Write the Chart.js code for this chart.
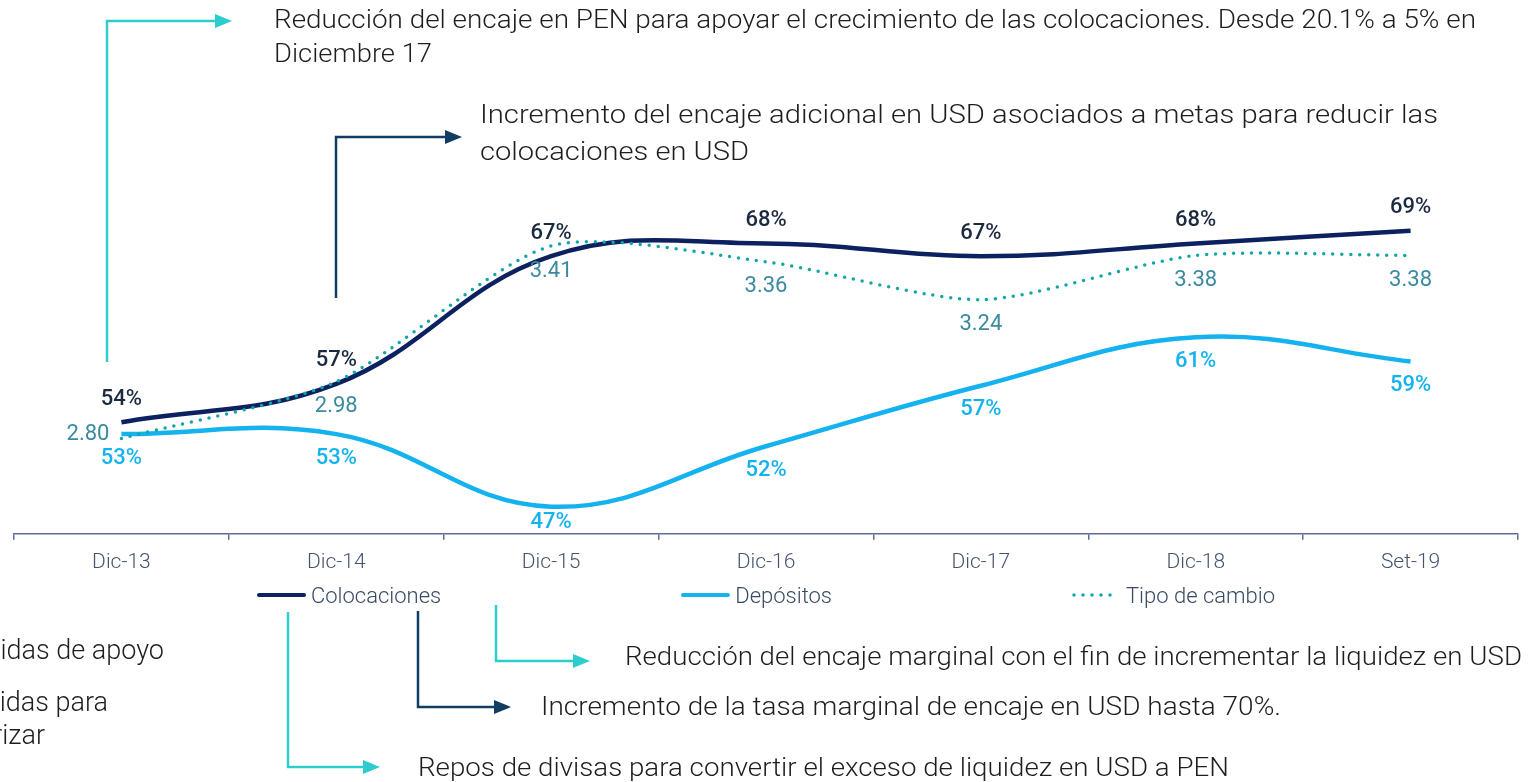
<!DOCTYPE html>
<html lang="es">
<head>
<meta charset="utf-8">
<title>Colocaciones, depósitos y tipo de cambio</title>
<script src="https://cdn.jsdelivr.net/npm/chart.js@4.4.1/dist/chart.umd.min.js"></script>
<style>
  html, body { margin: 0; padding: 0; background: #fff; }
  body { width: 1528px; height: 782px; position: relative; overflow: hidden; font-family: Roboto, "Noto Sans", sans-serif; }
  #caja { position: absolute; left: 0; top: 0; width: 1528px; height: 585px; }
  #notas { position: absolute; left: 0; top: 0; }
  #leyenda { position: absolute; left: 0; top: 580px; width: 1532px; height: 30px;
    display: flex; justify-content: center; align-items: center; gap: 240px; }
  .item { display: flex; align-items: center; font-size: 22px; font-weight: 300; color: #3a4a64; }
  .item svg { margin-right: 4px; }
</style>
</head>
<body>
<div id="caja"><canvas id="grafico"></canvas></div>
<div id="leyenda"></div>
<svg id="notas" width="1528" height="782" font-family="Roboto, 'Noto Sans', sans-serif" font-weight="300" font-size="26" fill="#1e1e1e">
  <!-- flechas -->
  <g fill="none" stroke-width="2.5">
    <polyline points="107,362 107,21 217,21" stroke="#2dcdce"/>
    <polyline points="336,298 336,137 447,137" stroke="#123d63"/>
    <polyline points="288,612 288,767 365,767" stroke="#2dcdce"/>
    <polyline points="418,611 418,707 496,707" stroke="#123d63"/>
    <polyline points="496,605 496,661 574,661" stroke="#2dcdce"/>
  </g>
  <polygon points="215,14 232,21 215,28" fill="#2dcdce"/>
  <polygon points="445,130 462,137 445,144" fill="#123d63"/>
  <polygon points="363,760 380,767 363,774" fill="#2dcdce"/>
  <polygon points="494,700 511,707 494,714" fill="#123d63"/>
  <polygon points="573,654 590,661 573,668" fill="#2dcdce"/>
  <!-- textos -->
  <text x="274" y="28" textLength="1202" lengthAdjust="spacingAndGlyphs">Reducción del encaje en PEN para apoyar el crecimiento de las colocaciones. Desde 20.1% a 5% en</text>
  <text x="274" y="62" textLength="158" lengthAdjust="spacingAndGlyphs">Diciembre 17</text>
  <text x="480" y="123" textLength="958" lengthAdjust="spacingAndGlyphs">Incremento del encaje adicional en USD asociados a metas para reducir las</text>
  <text x="480" y="160" textLength="269" lengthAdjust="spacingAndGlyphs">colocaciones en USD</text>
  <text x="625" y="665" textLength="897" lengthAdjust="spacingAndGlyphs">Reducción del encaje marginal con el fin de incrementar la liquidez en USD</text>
  <text x="541" y="715" textLength="740" lengthAdjust="spacingAndGlyphs">Incremento de la tasa marginal de encaje en USD hasta 70%.</text>
  <text x="418" y="776" textLength="811" lengthAdjust="spacingAndGlyphs">Repos de divisas para convertir el exceso de liquidez en USD a PEN</text>
  <g font-size="27">
    <text x="164" y="659" text-anchor="end">Medidas de apoyo</text>
    <text x="108" y="711" text-anchor="end">Medidas para</text>
    <text x="45" y="744" text-anchor="end">desdolarizar</text>
  </g>
</svg>
<script>
// datos
var categorias = ['Dic-13', 'Dic-14', 'Dic-15', 'Dic-16', 'Dic-17', 'Dic-18', 'Set-19'];
var colocaciones = [54, 57, 67, 68, 67, 68, 69];      // %
var depositos = [53, 53, 47, 52, 57, 61, 59];         // %
var tipoCambio = [2.80, 2.98, 3.41, 3.36, 3.24, 3.38, 3.38];
var nombres = ['Colocaciones', 'Depósitos', 'Tipo de cambio'];

var fuente = 'Roboto, "Noto Sans", sans-serif';

// etiquetas de datos sobre / bajo cada punto
var etiquetas = {
  id: 'etiquetas',
  afterDatasetsDraw: function (chart) {
    var ctx = chart.ctx;
    var area = chart.chartArea;
    chart.data.datasets.forEach(function (ds, i) {
      var meta = chart.getDatasetMeta(i);
      ctx.save();
      ctx.font = ds.etiquetaFuente;
      ctx.fillStyle = ds.etiquetaColor;
      ctx.textBaseline = 'middle';
      meta.data.forEach(function (pt, j) {
        var txt = ds.formato(ds.data[j]);
        var x = pt.x, y = pt.y + ds.desplazamiento;
        ctx.textAlign = 'center';
        if (ds.etiquetaIzq && j === 0) {
          // primer valor del tipo de cambio a la izquierda del punto
          ctx.textAlign = 'right';
          x = pt.x - 12;
          y = pt.y - 4;
        }
        if (y > area.bottom - 11) y = area.bottom - 11;
        ctx.fillText(txt, x, y);
      });
      ctx.restore();
    });
  }
};

var chart = new Chart(document.getElementById('grafico'), {
  type: 'line',
  data: {
    labels: categorias,
    datasets: [
      {
        label: nombres[0],
        data: colocaciones,
        yAxisID: 'yCol',
        borderColor: '#0b2160',
        borderWidth: 4.5,
        tension: 0.4,
        pointRadius: 0,
        order: 2,
        etiquetaFuente: '500 22px ' + fuente,
        etiquetaColor: '#1c2a40',
        desplazamiento: -23,
        formato: function (v) { return v + '%'; }
      },
      {
        label: nombres[1],
        data: depositos,
        yAxisID: 'yDep',
        borderColor: '#14b2ee',
        borderWidth: 4.5,
        tension: 0.4,
        pointRadius: 0,
        order: 3,
        etiquetaFuente: '500 22px ' + fuente,
        etiquetaColor: '#14b2ee',
        desplazamiento: 24,
        formato: function (v) { return v + '%'; }
      },
      {
        label: nombres[2],
        data: tipoCambio,
        yAxisID: 'yTc',
        borderColor: '#10a6a6',
        borderWidth: 3.5,
        borderDash: [0, 9],
        borderCapStyle: 'round',
        tension: 0.25,
        pointRadius: 0,
        order: 1,
        etiquetaFuente: '400 22px ' + fuente,
        etiquetaColor: '#3b8aa0',
        desplazamiento: 25,
        etiquetaIzq: true,
        formato: function (v) { return v.toFixed(2); }
      }
    ]
  },
  options: {
    responsive: true,
    maintainAspectRatio: false,
    animation: false,
    layout: { padding: { top: 175, left: 14, right: 10, bottom: 0 } },
    plugins: {
      legend: { display: false },
      tooltip: { enabled: false }
    },
    scales: {
      x: {
        offset: true,
        grid: { offset: true, drawOnChartArea: false, drawTicks: true, tickLength: 6, color: '#5b6c97', lineWidth: 1.5 },
        border: { color: '#5b6c97', width: 1.5 },
        ticks: { color: '#46546b', font: { family: fuente, size: 21, weight: 300 }, padding: 10 }
      },
      yCol: { display: false, min: 45.26, max: 73.36 },
      yDep: { display: false, min: 44.76, max: 74.42 },
      yTc: { display: false, min: 2.498, max: 3.635 }
    }
  },
  plugins: [etiquetas]
});

// leyenda propia con separación amplia
var ley = document.getElementById('leyenda');
chart.data.datasets.forEach(function (ds) {
  var item = document.createElement('div');
  item.className = 'item';
  var dash = ds.borderDash ? ' stroke-dasharray="0 9"' : '';
  var w = ds.borderDash ? 3.5 : 4;
  item.innerHTML = '<svg width="50" height="10"><line x1="2" y1="5" x2="47" y2="5" stroke="' + ds.borderColor +
    '" stroke-width="' + w + '" stroke-linecap="round"' + dash + '/></svg><span>' + ds.label + '</span>';
  ley.appendChild(item);
});
</script>
</body>
</html>
